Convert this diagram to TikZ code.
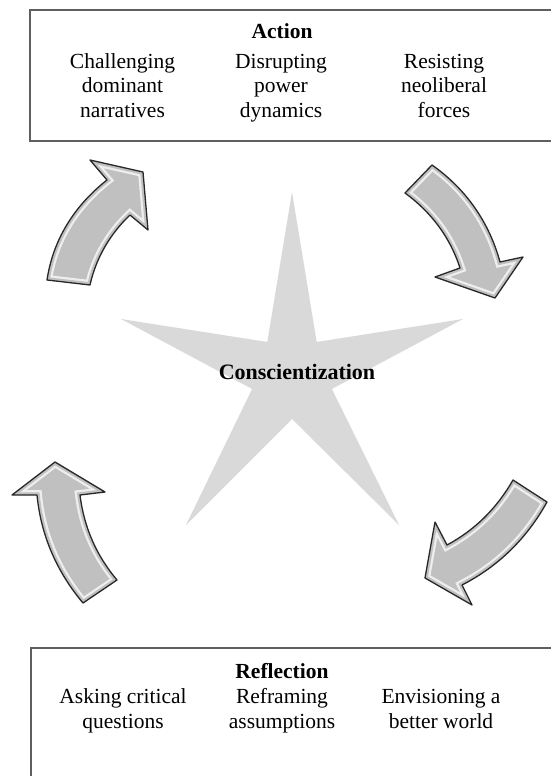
\documentclass[tikz,border=0pt]{standalone}
\usepackage{fontspec}
\setmainfont{Liberation Serif}
\begin{document}
\begin{tikzpicture}[x=1pt,y=-1pt,
  boxline/.style={draw={rgb,255:red,95;green,95;blue,95}, line width=1.4pt},
  lbl/.style={font=\fontsize{21.5}{24.5}\selectfont, align=center, inner sep=0pt, anchor=base},
  lblb/.style={font=\fontsize{21.5}{25}\selectfont, align=center, inner sep=0pt, anchor=base},
  ttl/.style={font=\fontsize{21.5}{24.5}\selectfont\bfseries, inner sep=0pt, anchor=base},
  starfill/.style={fill={rgb,255:red,217;green,217;blue,217}},
  arrfill/.style={fill={rgb,255:red,192;green,192;blue,192}},
  arrhl/.style={draw={rgb,255:red,238;green,238;blue,238}, line width=10pt},
  arrcore/.style={draw={rgb,255:red,192;green,192;blue,192}, line width=5.5pt},
  arrout/.style={draw={rgb,255:red,40;green,40;blue,40}, line width=1.3pt, line join=round}
]
\useasboundingbox (0,0) rectangle (551,776);
\fill[white] (0,0) rectangle (551,776);

% boxes
\draw[boxline] (552,10) -- (30,10) -- (30,141) -- (552,141);
\draw[boxline] (552,648) -- (31,648) -- (31,777);

% star
\fill[starfill] (292,192) -- (316.7,342) -- (463,319) -- (331.9,389) -- (399,525)
  -- (292,419) -- (186,525) -- (252.1,389) -- (121,319) -- (267.3,342) -- cycle;
\node[ttl, font=\fontsize{22}{24}\selectfont\bfseries] (core) at (297,379) {Conscientization};

% top texts (base = baseline of last line)
\node[ttl] (act) at (282,39) {Action};
\node[lbl] (a1) at (122.5,117) {Challenging\\dominant\\narratives};
\node[lbl] (a2) at (281,117) {Disrupting\\power\\dynamics};
\node[lbl] (a3) at (444,117) {Resisting\\neoliberal\\forces};

% bottom texts
\node[ttl] (ref) at (282,678) {Reflection};
\node[lblb] (r1) at (123,728) {Asking critical\\questions};
\node[lblb] (r2) at (282,728) {Reframing\\assumptions};
\node[lblb] (r3) at (441,728) {Envisioning a\\better world};

% arrows
\def\arrA{(47,280) -- (90,285) .. controls (96,258) and (110,234) .. (130,215) -- (148,230) -- (143,172) -- (90,160) -- (107,180) .. controls (74,206) and (53,240) .. (47,280) -- cycle}
\def\arrB{(405,193) -- (432,165) .. controls (466,189) and (489,222) .. (500,262) -- (523,257) -- (495,298) -- (435,277) -- (460,268) .. controls (450,237) and (431,212) .. (405,193) -- cycle}
\def\arrC{(513,480) -- (547,502) .. controls (527,538) and (499,566) .. (462,585) -- (472,605) -- (425,578) -- (435,522) -- (447,545) .. controls (475,530) and (497,508) .. (513,480) -- cycle}
\def\arrD{(117,580) -- (83,603) .. controls (57,572) and (41,536) .. (37,495) -- (12,495) -- (55,462) -- (105,492) -- (80,495) .. controls (84,527) and (96,555) .. (117,580) -- cycle}

\foreach \a in {\arrA,\arrB,\arrC,\arrD}{
  \begin{scope}
    \clip \a;
    \fill[arrfill] \a;
    \draw[arrhl] \a;
    \draw[arrcore] \a;
  \end{scope}
  \draw[arrout] \a;
}
\end{tikzpicture}
\end{document}
